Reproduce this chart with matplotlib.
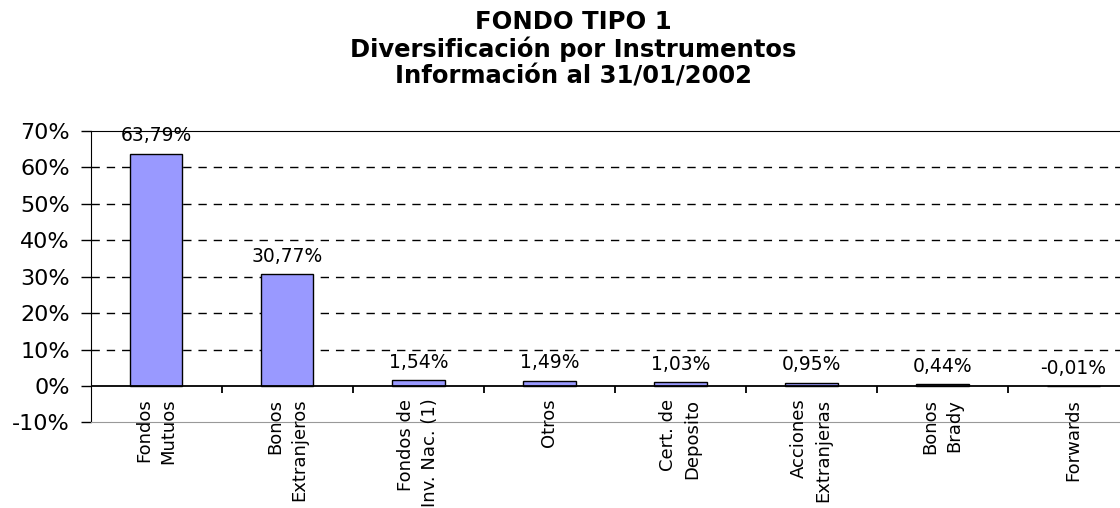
import matplotlib
matplotlib.use('Agg')
import matplotlib.pyplot as plt

categories = ['Fondos\nMutuos', 'Bonos\nExtranjeros', 'Fondos de\nInv. Nac. (1)', 'Otros',
              'Cert. de\nDeposito', 'Acciones\nExtranjeras', 'Bonos\nBrady', 'Forwards']
values = [63.79, 30.77, 1.54, 1.49, 1.03, 0.95, 0.44, -0.01]
value_labels = ['63,79%', '30,77%', '1,54%', '1,49%', '1,03%', '0,95%', '0,44%', '-0,01%']
y_ticks = [-10, 0, 10, 20, 30, 40, 50, 60, 70]

plt.rcParams['font.family'] = ['DejaVu Sans']

fig = plt.figure(figsize=(11.2, 5.08), dpi=100)
ax = fig.add_axes([0.081, 0.1685, 0.936, 0.5736])

x = list(range(len(values)))
ax.bar(x, values, width=0.4, color='#9999FF', edgecolor='black', linewidth=1, zorder=3)

ax.set_xlim(-0.5, 7.5)
ax.set_ylim(-10, 70)
ax.set_yticks(y_ticks)
ax.set_yticklabels([f'{t}%' for t in y_ticks], fontsize=16)
ax.tick_params(axis='y', direction='out', length=7, width=1, pad=8)
ax.set_xticks([])

# dashed grid lines, solid zero line
for t in [10, 20, 30, 40, 50, 60]:
    ax.axhline(t, color='black', linestyle=(0, (6, 5)), linewidth=1, zorder=1)
ax.axhline(0, color='black', linewidth=1.3, zorder=4)
ax.vlines([i + 0.5 for i in x[:-1]], -1.8, 0, color='black', linewidth=1.3, zorder=4)

for s in ['left', 'top']:
    ax.spines[s].set_color('black')
ax.spines['bottom'].set_color('#999999')
ax.spines['right'].set_visible(False)

# value labels above bars
for xi, v, lab in zip(x, values, value_labels):
    ax.annotate(lab, (xi, max(v, 0)), xytext=(0, 6), textcoords='offset points',
                ha='center', va='bottom', fontsize=13.5, zorder=5)

# category labels, rotated, hanging from just under the zero line
for xi, lab in zip(x, categories):
    ax.text(xi, -3.5, lab, rotation=90, ha='center', va='top', multialignment='right',
            fontsize=13, linespacing=1.45, clip_on=False)

fig.text(0.512, 0.98, 'FONDO TIPO 1\nDiversificación por Instrumentos\nInformación al 31/01/2002',
         ha='center', va='top', fontsize=17.5, fontweight='bold', linespacing=1.13)

plt.savefig('out.png', dpi=100)
